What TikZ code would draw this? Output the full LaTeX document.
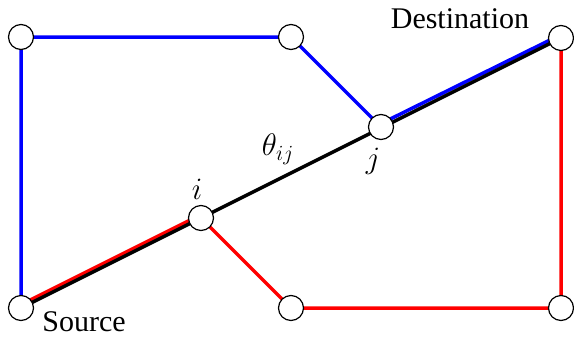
\documentclass[tikz,border=0pt]{standalone}
\usepackage{fontspec}
\setmainfont{Liberation Serif}
\usetikzlibrary{backgrounds}
\begin{document}
\begin{tikzpicture}[x=1pt,y=-1pt,
  vert/.style={circle,draw,fill=white,minimum size=25pt,inner sep=0pt,line width=1.2pt},
  edge/.style={line width=3.5pt,line join=round},
  lbl/.style={font=\fontsize{30}{36}\selectfont,inner sep=0pt},
  mlbl/.style={font=\fontsize{20}{24}\selectfont,inner sep=0pt,scale=1.5,transform shape}]
\useasboundingbox (0,0) rectangle (574,338);
\node[vert] (tl) at (21,37) {};
\node[vert] (tm) at (291,37) {};
\node[vert] (dst) at (561,38) {};
\node[vert] (j) at (381,127) {};
\node[vert] (i) at (201,218) {};
\node[vert] (src) at (21,308) {};
\node[vert] (bm) at (291,308) {};
\node[vert] (br) at (561,308) {};
\begin{pgfonlayer}{background}
\draw[edge,blue] (src.center) -- (tl.center) -- (tm.center) -- (j.center);
\draw[edge,blue] ([shift={(-1.4,-2.7)}]j.center) -- ([shift={(-1.4,-2.7)}]dst.center);
\draw[edge,red] ([shift={(-1.4,-2.7)}]src.center) -- ([shift={(-1.4,-2.7)}]i.center);
\draw[edge,red] (i.center) -- (bm.center) -- (br.center) -- (dst.center);
\draw[edge,black] (src.center) -- (dst.center);
\end{pgfonlayer}
\node[lbl] (ls) at (84,322) {Source};
\node[lbl] (ld) at (460,19) {Destination};
\node[mlbl] (lt) at (278,149) {$\theta_{ij}$};
\node[mlbl] (li) at (197,189) {$i$};
\node[mlbl] (lj) at (373,161) {$j$};
\end{tikzpicture}
\end{document}
